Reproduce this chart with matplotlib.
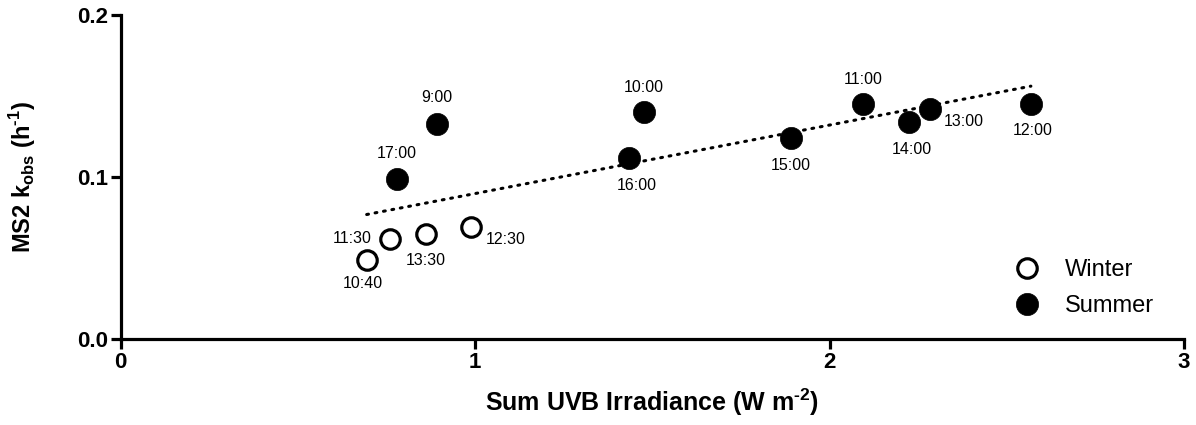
import numpy as np
import matplotlib
matplotlib.use("Agg")
import matplotlib.pyplot as plt

plt.rcParams['font.family'] = ['Liberation Sans', 'DejaVu Sans']
plt.rcParams['mathtext.fontset'] = 'custom'
plt.rcParams['mathtext.rm'] = 'Liberation Sans:bold'
plt.rcParams['mathtext.bf'] = 'Liberation Sans:bold'

# === data ===
winter_uvb = [0.694, 0.760, 0.861, 0.988]
winter_k = [0.049, 0.062, 0.065, 0.069]
winter_time = ["10:40", "11:30", "13:30", "12:30"]

summer_uvb = [0.779, 0.892, 1.435, 1.477, 1.890, 2.094, 2.225, 2.282, 2.568]
summer_k = [0.099, 0.1325, 0.112, 0.140, 0.124, 0.145, 0.134, 0.142, 0.145]
summer_time = ["17:00", "9:00", "16:00", "10:00", "15:00", "11:00", "14:00", "13:00", "12:00"]

# label offsets (points) for each time annotation
winter_off = [(-3, -17), (-27, 0), (0, -19), (25, -9)]
summer_off = [(0, 18), (0, 19), (5, -20), (0, 18), (0, -20), (0, 18), (2, -20), (25, -9), (1, -19)]

# === figure ===
fig = plt.figure(figsize=(11.96, 4.25), dpi=100)
ax = fig.add_axes([120.7 / 1196, 86 / 425, 1063.3 / 1196, 324 / 425])

# linear fit over all points
all_x = np.array(winter_uvb + summer_uvb)
all_y = np.array(winter_k + summer_k)
slope, intercept = np.polyfit(all_x, all_y, 1)
xl = np.array([all_x.min(), all_x.max()])
ax.plot(xl, slope * xl + intercept, color='black', lw=2.2,
        linestyle=(0, (0.6, 2.2)), dash_capstyle='round', zorder=1)

ax.plot(winter_uvb, winter_k, 'o', ms=14, mfc='white', mec='black', mew=2.3,
        linestyle='none', label='Winter', zorder=3)
ax.plot(summer_uvb, summer_k, 'o', ms=16, mfc='black', mec='black', mew=0.5,
        linestyle='none', label='Summer', zorder=3)

for x, y, t, off in zip(winter_uvb + summer_uvb, winter_k + summer_k,
                        winter_time + summer_time, winter_off + summer_off):
    ax.annotate(t, (x, y), xytext=off, textcoords='offset points',
                ha='center', va='center', fontsize=11.5)

ax.set_xlim(0, 3)
ax.set_ylim(0, 0.2)
ax.set_xticks([0, 1, 2, 3])
ax.set_yticks([0.0, 0.1, 0.2])
ax.set_yticklabels(["0.0", "0.1", "0.2"])

for s in ['top', 'right']:
    ax.spines[s].set_visible(False)
for s in ['left', 'bottom']:
    ax.spines[s].set_linewidth(2.3)
ax.tick_params(direction='out', length=7, width=2.3, labelsize=16, pad=2)
for lbl in ax.get_xticklabels() + ax.get_yticklabels():
    lbl.set_fontweight('bold')

ax.set_xlabel(r'Sum UVB Irradiance (W m$^{\text{-2}}$)', fontsize=18, fontweight='bold', labelpad=10)
ax.set_ylabel(r'MS2 k$_{\text{obs}}$ (h$^{\text{-1}}$)', fontsize=17, fontweight='bold', labelpad=28)

ax.legend(loc='center left', bbox_to_anchor=(1006 / 1196, 137 / 425), bbox_transform=fig.transFigure,
          frameon=False, fontsize=17, borderaxespad=0, handlelength=1.0,
          handletextpad=1.1, labelspacing=0.6)

fig.savefig("out.png", dpi=100)
